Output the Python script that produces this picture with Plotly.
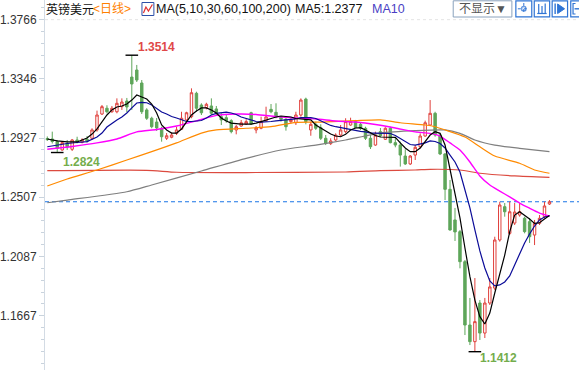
import plotly.graph_objects as go

# ---------------- data (GBP/USD daily) ----------------
idx = list(range(102))
opens = [1.2923, 1.2920, 1.2901, 1.2842, 1.2889, 1.2847, 1.2913, 1.2896, 1.2918, 1.2925,
         1.2984, 1.3097, 1.3138, 1.3113, 1.3113, 1.3149, 1.3189, 1.3359, 1.3409, 1.3317,
         1.3126, 1.3067, 1.3040, 1.2996, 1.2925, 1.2932, 1.2960, 1.2989, 1.3055, 1.3078,
         1.3244, 1.3161, 1.3142, 1.3154, 1.3133, 1.3078, 1.3071, 1.3050, 1.2984, 1.3012,
         1.3026, 1.3106, 1.2984, 1.2996, 1.3050, 1.3130, 1.3109, 1.3074, 1.3060, 1.3043,
         1.3035, 1.3090, 1.3203, 1.2984, 1.3024, 1.3000, 1.2925, 1.2887, 1.2913, 1.2948,
         1.2972, 1.3019, 1.3043, 1.3024, 1.2996, 1.2925, 1.2877, 1.2972, 1.2918, 1.2996,
         1.2894, 1.2877, 1.2799, 1.2743, 1.2806, 1.2865, 1.2941, 1.3019, 1.3102, 1.2948,
         1.2814, 1.2563, 1.2346, 1.2263, 1.2050, 1.1601, 1.1483, 1.1757, 1.1544, 1.1757,
         1.1863, 1.2204, 1.2440, 1.2251, 1.2324, 1.2381, 1.2358, 1.2334, 1.2239, 1.2322,
         1.2369, 1.2459]
highs = [1.2938, 1.2972, 1.2913, 1.2902, 1.2913, 1.2920, 1.2936, 1.2925, 1.2941, 1.2996,
         1.3121, 1.3161, 1.3159, 1.3154, 1.3208, 1.3208, 1.3211, 1.3514, 1.3445, 1.3338,
         1.3138, 1.3078, 1.3069, 1.3007, 1.2962, 1.2965, 1.3007, 1.3113, 1.3113, 1.3279,
         1.3255, 1.3173, 1.3177, 1.3208, 1.3154, 1.3102, 1.3090, 1.3060, 1.3019, 1.3055,
         1.3060, 1.3113, 1.3012, 1.3078, 1.3149, 1.3168, 1.3173, 1.3083, 1.3067, 1.3067,
         1.3113, 1.3208, 1.3213, 1.3043, 1.3043, 1.3024, 1.2948, 1.2925, 1.2960, 1.3019,
         1.3067, 1.3071, 1.3055, 1.3035, 1.3007, 1.2948, 1.2972, 1.2998, 1.3003, 1.3007,
         1.2927, 1.2901, 1.2847, 1.2806, 1.2877, 1.2960, 1.3050, 1.3196, 1.3113, 1.2960,
         1.2819, 1.2629, 1.2431, 1.2275, 1.2062, 1.1793, 1.1934, 1.1778, 1.1793, 1.1934,
         1.2227, 1.2475, 1.2466, 1.2475, 1.2466, 1.2466, 1.2369, 1.2360, 1.2346, 1.2381,
         1.2475, 1.2487]
lows = [1.2906, 1.2888, 1.2824, 1.2837, 1.2842, 1.2835, 1.2889, 1.2889, 1.2894, 1.2913,
        1.2972, 1.3090, 1.3102, 1.3106, 1.3102, 1.3126, 1.3111, 1.3126, 1.3324, 1.3097,
        1.3055, 1.2996, 1.2977, 1.2901, 1.2913, 1.2925, 1.2948, 1.2984, 1.3043, 1.3067,
        1.3113, 1.3090, 1.3130, 1.3090, 1.3083, 1.3019, 1.3035, 1.2960, 1.2953, 1.3007,
        1.3019, 1.3019, 1.2960, 1.2989, 1.3043, 1.3102, 1.3067, 1.3043, 1.2979, 1.3031,
        1.3019, 1.3078, 1.3024, 1.2943, 1.2984, 1.2913, 1.2877, 1.2877, 1.2906, 1.2936,
        1.2960, 1.3014, 1.2996, 1.2984, 1.2913, 1.2849, 1.2872, 1.2934, 1.2913, 1.2889,
        1.2861, 1.2724, 1.2736, 1.2736, 1.2771, 1.2854, 1.2936, 1.3012, 1.2936, 1.2806,
        1.2487, 1.2270, 1.2197, 1.2003, 1.1530, 1.1459, 1.1412, 1.1495, 1.1509, 1.1743,
        1.1849, 1.2192, 1.2369, 1.2239, 1.2310, 1.2369, 1.2251, 1.2183, 1.2168, 1.2310,
        1.2358, 1.2452]
closes = [1.2916, 1.2902, 1.2854, 1.2894, 1.2865, 1.2913, 1.2901, 1.2913, 1.2904, 1.2984,
          1.3090, 1.3149, 1.3113, 1.3138, 1.3173, 1.3182, 1.3147, 1.3310, 1.3338, 1.3113,
          1.3067, 1.3007, 1.2998, 1.2936, 1.2943, 1.2948, 1.2984, 1.3067, 1.3106, 1.3248,
          1.3138, 1.3106, 1.3166, 1.3102, 1.3102, 1.3055, 1.3050, 1.2972, 1.3007, 1.3035,
          1.3043, 1.3026, 1.3000, 1.3043, 1.3076, 1.3113, 1.3074, 1.3060, 1.3007, 1.3055,
          1.3090, 1.3196, 1.3043, 1.3024, 1.2996, 1.2925, 1.2889, 1.2906, 1.2948, 1.2984,
          1.3043, 1.3043, 1.3000, 1.2996, 1.2925, 1.2865, 1.2948, 1.2943, 1.2996, 1.2894,
          1.2877, 1.2806, 1.2743, 1.2799, 1.2861, 1.2941, 1.3035, 1.3102, 1.2948, 1.2814,
          1.2563, 1.2275, 1.2261, 1.2050, 1.1601, 1.1483, 1.1625, 1.1544, 1.1757, 1.1871,
          1.2204, 1.2452, 1.2404, 1.2404, 1.2402, 1.2404, 1.2263, 1.2227, 1.2322, 1.2358,
          1.2445, 1.2475]

# moving averages as displayed (at the given bar indices)
ma5_x = [0, 2, 4, 6, 8] + list(range(9, 38)) + [39, 41] + list(range(42, 69)) + [70] + list(range(71, 102))
ma5_v = [1.2920, 1.2906, 1.2899, 1.2899, 1.2927,
         1.2955, 1.2991, 1.3040, 1.3090, 1.3126, 1.3147, 1.3154, 1.3168, 1.3196, 1.3232,
         1.3218, 1.3203, 1.3168, 1.3104, 1.3019, 1.2984, 1.2962, 1.2962, 1.2991, 1.3040,
         1.3090, 1.3118, 1.3140, 1.3140, 1.3126, 1.3104, 1.3069, 1.3048, 1.3033,
         1.3026, 1.3026,
         1.3033, 1.3044, 1.3055, 1.3069, 1.3076, 1.3083, 1.3079, 1.3076, 1.3065, 1.3062,
         1.3058, 1.3055, 1.3019, 1.2998, 1.2972, 1.2955, 1.2941, 1.2936, 1.2953, 1.2984,
         1.2998, 1.3000, 1.2984, 1.2962, 1.2945, 1.2934, 1.2932,
         1.2932,
         1.2892, 1.2856, 1.2830, 1.2830, 1.2856, 1.2906, 1.2948, 1.2972, 1.2960, 1.2877,
         1.2700, 1.2523, 1.2360, 1.2147, 1.1944, 1.1778, 1.1660, 1.1608, 1.1686, 1.1828,
         1.1956, 1.2097, 1.2261, 1.2381, 1.2404, 1.2381, 1.2353, 1.2322, 1.2326, 1.2353,
         1.2377]
ma10_x = [0, 2, 4, 6, 8] + list(range(10, 102))
ma10_v = [1.2865, 1.2877, 1.2888, 1.2895, 1.2901,
          1.2934, 1.2962, 1.3005, 1.3033, 1.3055, 1.3076, 1.3104, 1.3140, 1.3175, 1.3179,
          1.3177, 1.3161, 1.3133, 1.3111, 1.3097, 1.3079, 1.3069, 1.3055, 1.3044, 1.3044,
          1.3048, 1.3051, 1.3069, 1.3090, 1.3101, 1.3108, 1.3111, 1.3104, 1.3094, 1.3076,
          1.3065, 1.3055, 1.3044, 1.3040, 1.3040, 1.3044, 1.3048, 1.3051, 1.3055, 1.3055,
          1.3062, 1.3071, 1.3072, 1.3071, 1.3065, 1.3048, 1.3030, 1.3016, 1.3007, 1.3000,
          1.2994, 1.2984, 1.2977, 1.2974, 1.2970, 1.2962, 1.2962, 1.2962, 1.2962, 1.2959,
          1.2945, 1.2923, 1.2899, 1.2881, 1.2877, 1.2884, 1.2892, 1.2906, 1.2902, 1.2888,
          1.2856, 1.2806, 1.2757, 1.2686, 1.2558, 1.2431, 1.2275, 1.2126, 1.2005, 1.1913,
          1.1878, 1.1885, 1.1906, 1.1949, 1.2027, 1.2108, 1.2183, 1.2246, 1.2303, 1.2346,
          1.2367, 1.2374]
ma30_x = [0, 5, 10, 14, 18, 22, 26, 30, 34, 38, 42, 46, 50, 54, 58, 62, 66, 70, 74,
          77, 79, 81, 83, 85, 87, 89, 91, 93, 95, 97, 99, 101]
ma30_v = [1.2847, 1.2867, 1.2892, 1.2920, 1.2970, 1.2987, 1.3012, 1.3048, 1.3087, 1.3097,
          1.3094, 1.3079, 1.3069, 1.3062, 1.3048, 1.3040, 1.3023, 1.2998, 1.2970,
          1.2960, 1.2941, 1.2892, 1.2842, 1.2757, 1.2658, 1.2594, 1.2551, 1.2509, 1.2466,
          1.2429, 1.2395, 1.2374]
ma60_x = [0, 4, 10, 16, 21, 26, 31, 34, 40, 45, 50, 55, 62, 67, 71, 76, 78, 80, 84, 87,
          90, 95, 98, 101]
ma60_v = [1.2587, 1.2636, 1.2700, 1.2771, 1.2830, 1.2892, 1.2962, 1.2984, 1.2996, 1.3007,
          1.3038, 1.3040, 1.3050, 1.3055, 1.3035, 1.3019, 1.3007, 1.2984, 1.2934, 1.2865,
          1.2799, 1.2748, 1.2700, 1.2677]
ma100_x = [0, 4, 16, 21, 31, 40, 47, 54, 60, 67, 74, 80, 83, 86, 90, 95, 101]
ma100_v = [1.2468, 1.2487, 1.2546, 1.2594, 1.2693, 1.2783, 1.2842, 1.2877, 1.2913, 1.2962,
           1.2979, 1.2984, 1.2960, 1.2913, 1.2877, 1.2854, 1.2830]
ma200_x = [0, 20, 26, 40, 60, 67, 74, 77, 83, 87, 94, 101]
ma200_v = [1.2695, 1.2698, 1.2684, 1.2682, 1.2686, 1.2695, 1.2700, 1.2705, 1.2700, 1.2677,
           1.2658, 1.2648]

y_ticks = [1.1667, 1.2087, 1.2507, 1.2927, 1.3346, 1.3766]
y_tick_text = ["1.1667", "1.2087", "1.2507", "1.2927", "1.3346", "1.3766"]

# ---------------- styling ----------------
RED = "#e0403c"
GREEN = "#5ea65a"
W, H, LM = 579, 370, 42


def PX(x):
    return (x - LM) / (W - LM)


def PY(y):
    return 1 - y / H


fig = go.Figure()
fig.add_trace(go.Candlestick(
    x=idx, open=opens, high=highs, low=lows, close=closes,
    increasing=dict(line=dict(color=RED, width=1), fillcolor="white"),
    decreasing=dict(line=dict(color=GREEN, width=1), fillcolor=GREEN),
    whiskerwidth=0, hoverinfo="skip", showlegend=False))

ma_specs = [
    (ma200_x, ma200_v, "#dc4a3f", "spline", 1.2),
    (ma100_x, ma100_v, "#7f7f7f", "spline", 1.2),
    (ma60_x, ma60_v, "#ff8a00", "spline", 1.2),
    (ma30_x, ma30_v, "#ff00ff", "spline", 1.4),
    (ma10_x, ma10_v, "#0b0b98", "linear", 1.2),
    (ma5_x, ma5_v, "#000000", "linear", 1.2),
]
for xs, vs, col, shp, lw in ma_specs:
    assert len(xs) == len(vs)
    fig.add_trace(go.Scatter(x=xs, y=vs, mode="lines",
                             line=dict(color=col, width=lw, shape=shp, smoothing=0.6),
                             hoverinfo="skip", showlegend=False))

# extreme markers
imax = max(idx, key=lambda i: highs[i])
imin = min(idx, key=lambda i: lows[i])
ileft = min(range(10), key=lambda i: lows[i])
fig.add_trace(go.Scatter(
    x=[imax, imin, ileft], y=[highs[imax], lows[imin], lows[ileft]], mode="markers",
    marker=dict(symbol="line-ew", size=9, line=dict(width=1.4, color="black")),
    hoverinfo="skip", showlegend=False))

ann = []
ann.append(dict(x=imax, y=highs[imax], xref="x", yref="y", text="<b>%.4f</b>" % highs[imax],
                showarrow=False, xanchor="left", yanchor="middle", xshift=4, yshift=8,
                font=dict(family="Liberation Sans, Arial", size=12, color="#e04848")))
ann.append(dict(x=ileft, y=lows[ileft], xref="x", yref="y", text="<b>%.4f</b>" % lows[ileft],
                showarrow=False, xanchor="left", yanchor="middle", xshift=4, yshift=-9,
                font=dict(family="Liberation Sans, Arial", size=12, color="#74ad4c")))
ann.append(dict(x=imin, y=lows[imin], xref="x", yref="y", text="<b>%.4f</b>" % lows[imin],
                showarrow=False, xanchor="left", yanchor="middle", xshift=3, yshift=-6,
                font=dict(family="Liberation Sans, Arial", size=12, color="#74ad4c")))

HF = "Liberation Sans, Arial, Noto Sans CJK SC"


def header(x, text, color, size=12.5):
    ann.append(dict(x=PX(x), y=PY(9.5), xref="paper", yref="paper", text=text,
                    showarrow=False, xanchor="left", yanchor="middle",
                    font=dict(family=HF, size=size, color=color)))


header(40.5, "英镑美元", "#111111", 12)
header(88.5, "<日线>", "#ff7f00", 12)
header(151.5, "MA(5,10,30,60,100,200)", "#111111")
header(291, "MA5:1.2377", "#111111")
header(368.5, "MA10", "#4a3fc4")
ann.append(dict(x=PX(482), y=PY(9), xref="paper", yref="paper", text="不显示▼",
                showarrow=False, xanchor="center", yanchor="middle",
                font=dict(family=HF, size=12, color="#555555")))

shapes = []
# last price dashed line
shapes.append(dict(type="line", xref="paper", yref="y", x0=0, x1=1, y0=closes[-1], y1=closes[-1],
                   line=dict(color="#1a74e6", width=1, dash="4px,3px"), layer="below"))
# faint top grid line
shapes.append(dict(type="line", xref="paper", yref="y", x0=0, x1=1, y0=y_ticks[-1], y1=y_ticks[-1],
                   line=dict(color="#e4e4e4", width=1, dash="3px,3px"), layer="below"))


def rect(x0, y0, x1, y1, col, width=1, fill="rgba(0,0,0,0)"):
    shapes.append(dict(type="rect", xref="paper", yref="paper", x0=PX(x0), x1=PX(x1),
                       y0=PY(y1), y1=PY(y0), line=dict(color=col, width=width), fillcolor=fill))


def path(pts, col, width=1, dash="solid", closed=False, fill="rgba(0,0,0,0)"):
    d = "M " + " L ".join("%.5f %.5f" % (PX(a), PY(b)) for a, b in pts)
    if closed:
        d += " Z"
    shapes.append(dict(type="path", xref="paper", yref="paper", path=d,
                       line=dict(color=col, width=width, dash=dash), fillcolor=fill))


# header chart icon
rect(139.5, 2.5, 151.5, 15.5, "#2c4fa8", 1, "white")
path([(141, 13), (143.5, 7), (146, 11), (150, 4.5)], "#e03030", 1.2)
# "不显示" button box
rect(452.5, 0.8, 511.5, 17, "#8aa2bd", 1)
# right tool icons
BL = "#2f74d4"
rect(515.5, 0.8, 531.5, 16.8, BL, 1.2)
path([(523.5, 3), (523.5, 14.5)], BL, 1, "dot")
path([(517.5, 8.8), (529.5, 8.8)], BL, 1, "dot")
rect(521.5, 6.8, 525.5, 10.8, BL, 1)
rect(534, 0.8, 549.5, 16.8, BL, 1.2)
path([(537, 13.5), (546.5, 13.5)], BL, 1.2)
path([(538.5, 4), (538.5, 13.5)], BL, 1.2)
path([(541.8, 6), (541.8, 13.5)], BL, 1.2)
path([(545, 3.5), (545, 13.5)], BL, 1.2)
rect(552, 0.8, 567.5, 16.8, BL, 1.2)
path([(555, 3.5), (555, 14)], BL, 1.4)
path([(557.5, 4), (564.5, 8.8), (557.5, 13.5)], BL, 1, closed=True, fill=BL)
rect(570.7, 0.8, 586, 16.8, BL, 1.2)
path([(575.5, 3.5), (573, 3.5), (573, 14), (575.5, 14)], BL, 1.2)
path([(574.5, 8.8), (579, 8.8)], BL, 1.4)

step = (y_ticks[-1] - y_ticks[0]) / 25
minor_vals = [y_ticks[0] + k * step for k in range(-4, 29) if k % 5 != 0]

fig.update_layout(
    width=W, height=H, margin=dict(l=LM, r=0, t=0, b=0),
    paper_bgcolor="white", plot_bgcolor="white", showlegend=False,
    xaxis=dict(range=[-0.46, 106.94], visible=False, rangeslider=dict(visible=False),
               showgrid=False, zeroline=False),
    yaxis=dict(range=[1.12821, 1.39054], tickvals=y_ticks, ticktext=y_tick_text,
               ticks="outside", ticklen=5, tickcolor="#c9d3dd", showline=True,
               linecolor="#d3dbe4", linewidth=1, showgrid=False, zeroline=False,
               tickfont=dict(family="Liberation Sans, Arial", size=12, color="#333333"),
               minor=dict(tickvals=minor_vals, ticks="outside", ticklen=3,
                          tickcolor="#c9d3dd", showgrid=False)),
    annotations=ann, shapes=shapes,
)

fig.write_html("out.html")
